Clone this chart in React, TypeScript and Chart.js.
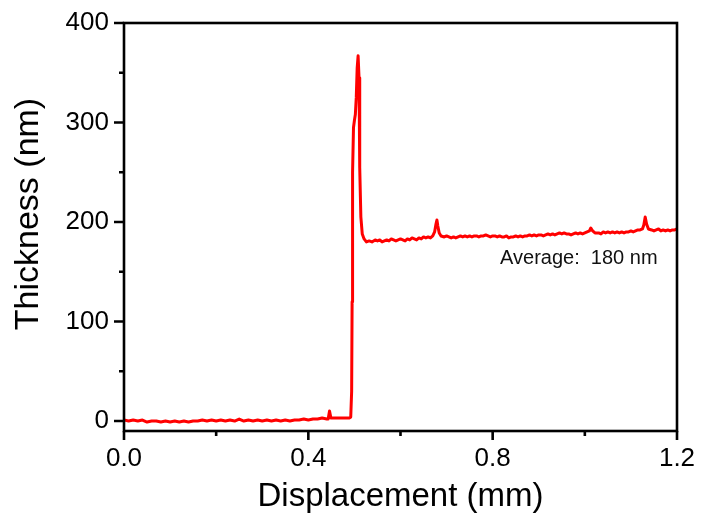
import React, { useEffect, useRef } from "react";
import { Chart, registerables } from "chart.js";

Chart.register(...registerables);

const displacement: number[] = [
  0.0, 0.01, 0.02, 0.03, 0.04, 0.05, 0.06, 0.07, 0.08, 0.09,
  0.1, 0.11, 0.12, 0.13, 0.14, 0.15, 0.16, 0.17, 0.18, 0.19,
  0.2, 0.21, 0.22, 0.23, 0.24, 0.25, 0.26, 0.27, 0.28, 0.29,
  0.3, 0.31, 0.32, 0.33, 0.34, 0.35, 0.36, 0.37, 0.38, 0.39,
  0.4, 0.41, 0.42, 0.43, 0.44, 0.443, 0.446, 0.449, 0.46, 0.47,
  0.48, 0.488, 0.492, 0.494, 0.495, 0.496, 0.498, 0.5, 0.502, 0.504,
  0.506, 0.508, 0.51, 0.511, 0.512, 0.514, 0.517, 0.521, 0.526, 0.532,
  0.538, 0.545, 0.55, 0.555, 0.56, 0.565, 0.57, 0.575, 0.58, 0.585,
  0.59, 0.595, 0.6, 0.605, 0.61, 0.615, 0.62, 0.625, 0.63, 0.635,
  0.64, 0.645, 0.65, 0.655, 0.66, 0.665, 0.67, 0.674, 0.677, 0.679,
  0.681, 0.684, 0.688, 0.695, 0.7, 0.705, 0.71, 0.715, 0.72, 0.725,
  0.73, 0.735, 0.74, 0.745, 0.75, 0.755, 0.76, 0.765, 0.77, 0.775,
  0.78, 0.785, 0.79, 0.795, 0.8, 0.805, 0.81, 0.815, 0.82, 0.825,
  0.83, 0.835, 0.84, 0.845, 0.85, 0.855, 0.86, 0.865, 0.87, 0.875,
  0.88, 0.885, 0.89, 0.895, 0.9, 0.905, 0.91, 0.915, 0.92, 0.925,
  0.93, 0.935, 0.94, 0.945, 0.95, 0.955, 0.96, 0.965, 0.97, 0.975,
  0.98, 0.985, 0.99, 0.995, 1.0, 1.005, 1.01, 1.013, 1.017, 1.022,
  1.03, 1.035, 1.04, 1.045, 1.05, 1.055, 1.06, 1.065, 1.07, 1.075,
  1.08, 1.085, 1.09, 1.095, 1.1, 1.105, 1.11, 1.115, 1.12, 1.125,
  1.128, 1.131, 1.134, 1.138, 1.145, 1.15, 1.155, 1.16, 1.165, 1.17,
  1.175, 1.18, 1.185, 1.19, 1.195, 1.2,
];

const thickness: number[] = [
  1, 0, 1, 0, 1, -1, 0, 0, -1, 0,
  -1, 0, -1, 0, -1, 0, 0, 1, 0, 1,
  0, 1, 0, 1, 0, 2, 0, 1, 0, 1,
  0, 1, 0, 1, 0, 1, 0, 1, 1, 2,
  1, 2, 2, 3, 2, 2, 10, 3, 3, 3,
  3, 3, 4, 30, 120, 250, 295, 302, 308, 325,
  355, 367, 345, 305, 255, 205, 188, 183, 180, 181,
  180, 182, 181, 182, 180, 181, 182, 181, 183, 182,
  181, 182, 183, 182, 181, 183, 182, 184, 183, 182,
  184, 183, 185, 184, 185, 184, 186, 190, 198, 202,
  196, 189, 186, 185, 186, 185, 184, 185, 184, 185,
  186, 185, 186, 185, 186, 185, 186, 186, 185, 186,
  186, 187, 186, 185, 186, 186, 185, 186, 185, 185,
  186, 184, 185, 185, 186, 185, 186, 185, 186, 186,
  187, 186, 187, 186, 187, 187, 186, 187, 188, 187,
  188, 187, 188, 189, 188, 189, 188, 188, 187, 188,
  189, 188, 189, 188, 189, 190, 191, 194, 191, 189,
  189, 188, 190, 189, 190, 189, 190, 189, 190, 189,
  190, 189, 190, 190, 191, 190, 191, 192, 192, 193,
  197, 205, 198, 193, 192, 191, 192, 193, 191, 192,
  191, 192, 191, 192, 192, 193,
];

const xMajorTicks: number[] = [0, 0.4, 0.8, 1.2];
const xMinorTicks: number[] = [0.2, 0.6, 1.0];
const yMajorTicks: number[] = [0, 100, 200, 300, 400];
const yMinorTicks: number[] = [50, 150, 250, 350];

const xTitle = "Displacement (mm)";
const yTitle = "Thickness (nm)";
const annotationText = "Average:  180 nm";
const annotationX = 0.816;
const annotationY = 163;

const FONT = "'Liberation Sans', Arial, Helvetica, sans-serif";

export default function App() {
  const canvasRef = useRef<HTMLCanvasElement | null>(null);

  useEffect(() => {
    document.body.style.margin = "0";
    const canvas = canvasRef.current;
    if (!canvas) return;

    const framePlugin = {
      id: "frameTicks",
      afterDraw(chart: any) {
        const { ctx, chartArea } = chart;
        const xs = chart.scales.x;
        const ys = chart.scales.y;
        ctx.save();
        ctx.strokeStyle = "#000";
        ctx.lineWidth = 2.6;
        ctx.strokeRect(
          chartArea.left,
          chartArea.top,
          chartArea.right - chartArea.left,
          chartArea.bottom - chartArea.top
        );
        ctx.beginPath();
        xMajorTicks.forEach((v) => {
          const px = xs.getPixelForValue(v);
          ctx.moveTo(px, chartArea.bottom);
          ctx.lineTo(px, chartArea.bottom + 9);
        });
        xMinorTicks.forEach((v) => {
          const px = xs.getPixelForValue(v);
          ctx.moveTo(px, chartArea.bottom);
          ctx.lineTo(px, chartArea.bottom + 5);
        });
        yMajorTicks.forEach((v) => {
          const py = ys.getPixelForValue(v);
          ctx.moveTo(chartArea.left, py);
          ctx.lineTo(chartArea.left - 10, py);
        });
        yMinorTicks.forEach((v) => {
          const py = ys.getPixelForValue(v);
          ctx.moveTo(chartArea.left, py);
          ctx.lineTo(chartArea.left - 5, py);
        });
        ctx.stroke();

        // y-axis title
        ctx.fillStyle = "#000";
        ctx.font = `34px ${FONT}`;
        ctx.textAlign = "center";
        ctx.textBaseline = "middle";
        ctx.save();
        ctx.translate(29, 214);
        ctx.rotate(-Math.PI / 2);
        ctx.fillText(yTitle, 0, 0);
        ctx.restore();

        ctx.fillStyle = "#111";
        ctx.font = `20px ${FONT}`;
        ctx.textAlign = "left";
        ctx.textBaseline = "middle";
        ctx.fillText(
          annotationText,
          xs.getPixelForValue(annotationX),
          ys.getPixelForValue(annotationY)
        );
        ctx.restore();
      },
    };

    const chart = new Chart(canvas, {
      type: "line",
      data: {
        datasets: [
          {
            data: displacement.map((x, i) => ({ x, y: thickness[i] })),
            borderColor: "#ff0000",
            borderWidth: 3,
            borderJoinStyle: "round",
            borderCapStyle: "round",
            pointRadius: 0,
            tension: 0,
            fill: false,
          },
        ],
      },
      options: {
        animation: false,
        responsive: false,
        devicePixelRatio: 1,
        layout: { padding: { left: 0, right: 25, top: 23, bottom: 0 } },
        plugins: {
          legend: { display: false },
          tooltip: { enabled: false },
        },
        scales: {
          x: {
            type: "linear",
            min: 0,
            max: 1.2,
            afterBuildTicks: (scale: any) => {
              scale.ticks = xMajorTicks.map((v) => ({ value: v }));
            },
            afterFit: (scale: any) => {
              scale.height = 86;
              scale.paddingLeft = 0;
              scale.paddingRight = 0;
            },
            grid: { display: false, drawTicks: false, tickLength: 0 },
            border: { display: false },
            ticks: {
              padding: 12,
              color: "#000",
              font: { family: FONT, size: 26 },
              maxRotation: 0,
              callback: (v: any) => Number(v).toFixed(1),
            },
            title: {
              display: true,
              text: xTitle,
              color: "#000",
              font: { family: FONT, size: 33 },
              padding: { top: 0, bottom: 0 },
            },
          },
          y: {
            type: "linear",
            min: -10,
            max: 400,
            afterBuildTicks: (scale: any) => {
              scale.ticks = yMajorTicks.map((v) => ({ value: v }));
            },
            afterFit: (scale: any) => {
              scale.width = 124;
              scale.paddingTop = 0;
              scale.paddingBottom = 0;
            },
            grid: { display: false, drawTicks: false, tickLength: 0 },
            border: { display: false },
            ticks: {
              padding: 15,
              color: "#000",
              font: { family: FONT, size: 26 },
              callback: (v: any) => String(v),
            },
            title: { display: false },
          },
        },
      },
      plugins: [framePlugin],
    });

    return () => {
      chart.destroy();
    };
  }, []);

  return (
    <div style={{ width: 702, height: 517 }}>
      <canvas ref={canvasRef} width={702} height={517} />
    </div>
  );
}
